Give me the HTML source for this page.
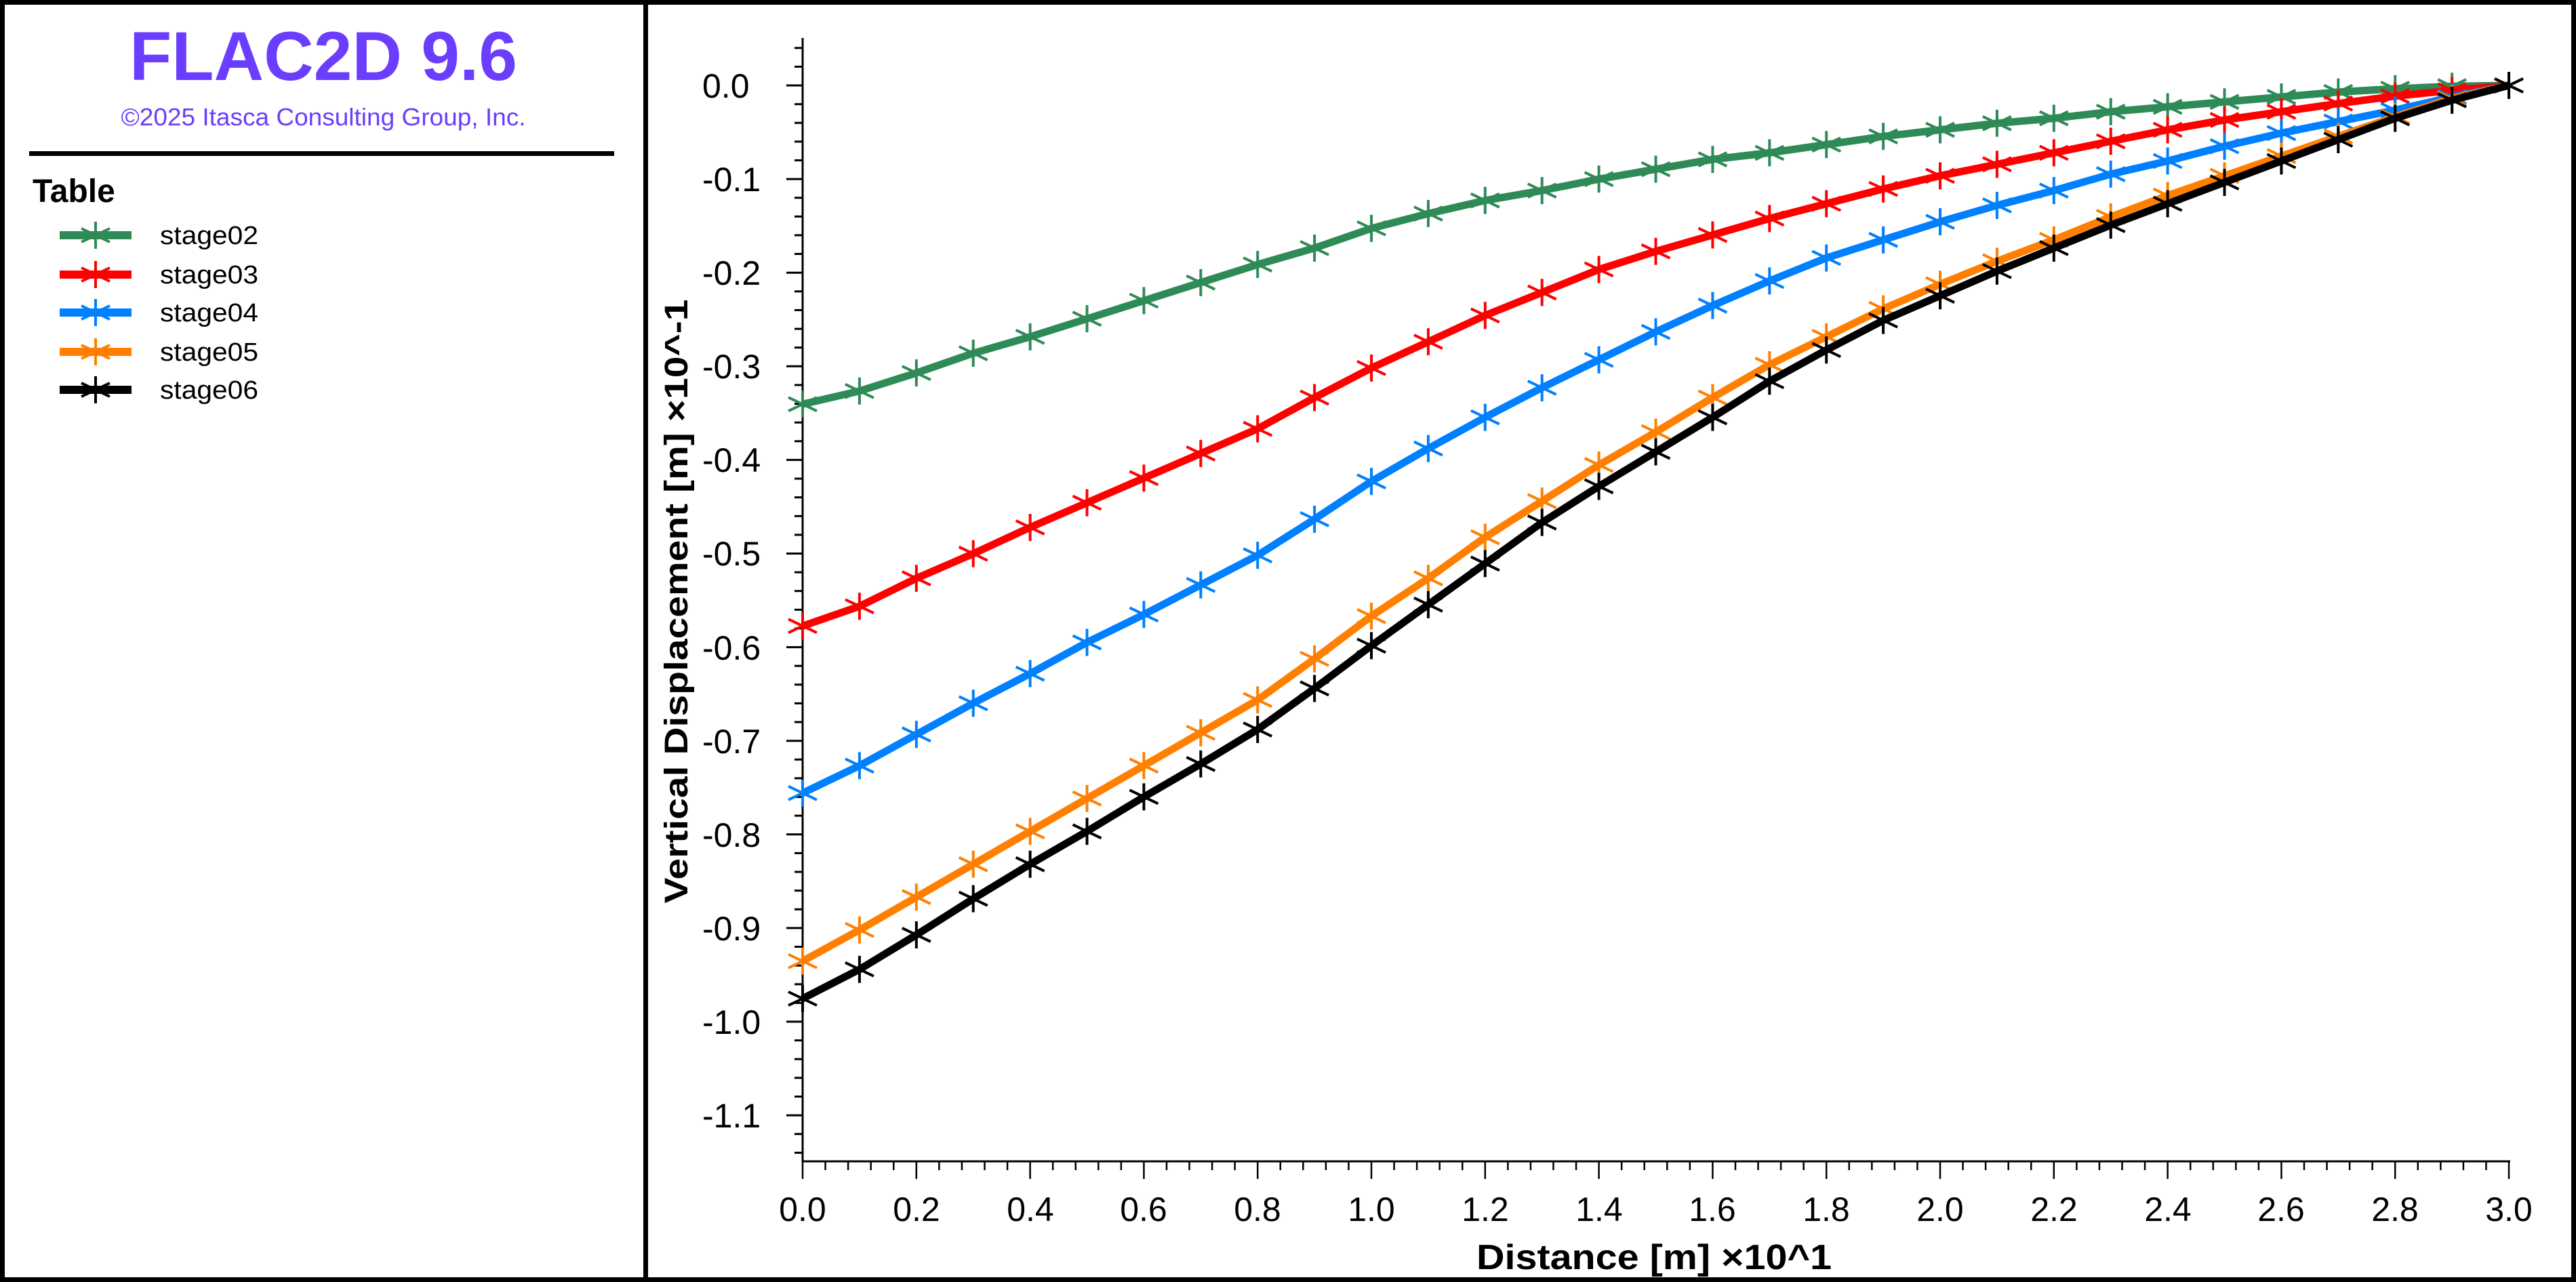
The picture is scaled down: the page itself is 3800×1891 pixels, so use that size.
<!DOCTYPE html>
<html><head><meta charset="utf-8"><style>
html,body{margin:0;padding:0;background:#fff}
svg{display:block}
text{font-family:"Liberation Sans",sans-serif}
</style></head><body>
<svg id="s" width="3800" height="1891" viewBox="0 0 3800 1891" xmlns="http://www.w3.org/2000/svg">
<rect x="0" y="0" width="3800" height="1891" fill="#fff"/>
<rect x="3.5" y="3.5" width="3793" height="1884" fill="none" stroke="#000" stroke-width="7"/>
<rect x="949" y="0" width="7" height="1891" fill="#000"/>
<text x="477" y="118" font-size="102" font-weight="bold" fill="#6a3dff" text-anchor="middle" textLength="572" lengthAdjust="spacingAndGlyphs">FLAC2D 9.6</text>
<text x="477" y="185" font-size="36" fill="#6a3dff" text-anchor="middle" textLength="597" lengthAdjust="spacingAndGlyphs">©2025 Itasca Consulting Group, Inc.</text>
<rect x="43" y="223" width="863" height="7" fill="#000"/>
<text x="48" y="298" font-size="48" font-weight="bold" fill="#000">Table</text>
<g font-size="38" fill="#000">
<text x="236" y="360" textLength="145" lengthAdjust="spacingAndGlyphs">stage02</text>
<text x="236" y="418" textLength="145" lengthAdjust="spacingAndGlyphs">stage03</text>
<text x="236" y="474" textLength="145" lengthAdjust="spacingAndGlyphs">stage04</text>
<text x="236" y="532" textLength="145" lengthAdjust="spacingAndGlyphs">stage05</text>
<text x="236" y="588" textLength="145" lengthAdjust="spacingAndGlyphs">stage06</text>
</g>
<g font-size="50" fill="#000">
<text x="1036" y="144">0.0</text>
<text x="1036" y="282">-0.1</text>
<text x="1036" y="420">-0.2</text>
<text x="1036" y="558">-0.3</text>
<text x="1036" y="696">-0.4</text>
<text x="1036" y="834">-0.5</text>
<text x="1036" y="973">-0.6</text>
<text x="1036" y="1111">-0.7</text>
<text x="1036" y="1249">-0.8</text>
<text x="1036" y="1387">-0.9</text>
<text x="1036" y="1525">-1.0</text>
<text x="1036" y="1663">-1.1</text>
</g>
<g font-size="50" fill="#000" text-anchor="middle">
<text x="1184" y="1801">0.0</text>
<text x="1352" y="1801">0.2</text>
<text x="1520" y="1801">0.4</text>
<text x="1687" y="1801">0.6</text>
<text x="1855" y="1801">0.8</text>
<text x="2023" y="1801">1.0</text>
<text x="2191" y="1801">1.2</text>
<text x="2359" y="1801">1.4</text>
<text x="2526" y="1801">1.6</text>
<text x="2694" y="1801">1.8</text>
<text x="2862" y="1801">2.0</text>
<text x="3030" y="1801">2.2</text>
<text x="3198" y="1801">2.4</text>
<text x="3365" y="1801">2.6</text>
<text x="3533" y="1801">2.8</text>
<text x="3701" y="1801">3.0</text>
</g>
<text x="2440" y="1872" font-size="52" font-weight="bold" text-anchor="middle" textLength="524" lengthAdjust="spacingAndGlyphs">Distance [m] ×10^1</text>
<text transform="translate(1014,887) rotate(-90)" x="0" y="0" font-size="48" font-weight="bold" text-anchor="middle" textLength="891" lengthAdjust="spacingAndGlyphs">Vertical Displacement [m] ×10^-1</text>
<g id="axes"></g>
<g id="data"></g>
</svg>
<script>
var NS="http://www.w3.org/2000/svg";
function el(p,t,a){var e=document.createElementNS(NS,t);for(var k in a)e.setAttribute(k,a[k]);p.appendChild(e);return e;}
var ax=document.getElementById("axes");
el(ax,"line",{x1:1184,y1:56,x2:1184,y2:1714,stroke:"#000","stroke-width":3});
el(ax,"line",{x1:1184,y1:1713,x2:3703,y2:1713,stroke:"#000","stroke-width":3});
for(var k=-2;k<=57;k++){var y=126+k*27.62;if(y<56||y>1712)continue;var L=(k%5==0)?24:12;
 el(ax,"line",{x1:1184-L,y1:y,x2:1184,y2:y,stroke:"#000","stroke-width":3});}
for(var k=0;k<=75;k++){var x=1184+k*33.56;var L=(k%5==0)?26:13;
 el(ax,"line",{x1:x,y1:1713,x2:x,y2:1713+L,stroke:"#000","stroke-width":2.5});}
var S=2.4235;
var series=[
["#2e8b57",[246,238,227,215,205,194,183,172,161,151,139,130,122,116,109,103,97,93,88,83,79,75,72,68,65,62,59,56,54,52.5,52]],
["#ff0000",[381,369,352,337,321,306,291,276,261,242,224,208,192,178,164,153,143,133,124,115,107,100,93,86,79,73,68,63,58.5,55,52]],
["#0080ff",[482.7,466,447,428,410,391,374,356,338,316,293,273,254,236,219,202,186,171,157,146,135,125,116,106,98,89,81,74,67,59,52]],
["#ff8000",[585,566,546,526,506,486,466,446,426,401,375,352,327,305,283,263,242,222,205,188,173,159,146,132,119,107,95,83,71,60,52]],
["#000000",[607.8,590,569,547,526,506,485,465,444,419,393,368,343,318,296,275,254,232,213,195,180,165,151,137,124,111,98,85,72,61,52]]];
function star(p,x,y,c){
 el(p,"path",{d:"M"+x+" "+(y-20)+"V"+(y+20)+"M"+(x-21)+" "+(y-10)+"L"+(x+21)+" "+(y+10)+"M"+(x-21)+" "+(y+10)+"L"+(x+21)+" "+(y-10),stroke:c,"stroke-width":4,fill:"none"});}
var dg=document.getElementById("data");
series.forEach(function(s,si){
 var pts=s[1].map(function(v,i){return [1184+i*83.9,v*S];});
 pts[30][1]=126;
 el(dg,"polyline",{points:pts.map(function(p){return p[0].toFixed(1)+","+p[1].toFixed(1)}).join(" "),stroke:s[0],"stroke-width":11,fill:"none","stroke-linejoin":"round"});
 pts.forEach(function(p){star(dg,p[0],p[1],s[0]);});
 var ly=[347,405,461,519,575][si];
 el(dg,"rect",{x:88,y:ly-6,width:106,height:12,fill:s[0]});
 star(dg,141,ly,s[0]);
});
</script>
</body></html>
